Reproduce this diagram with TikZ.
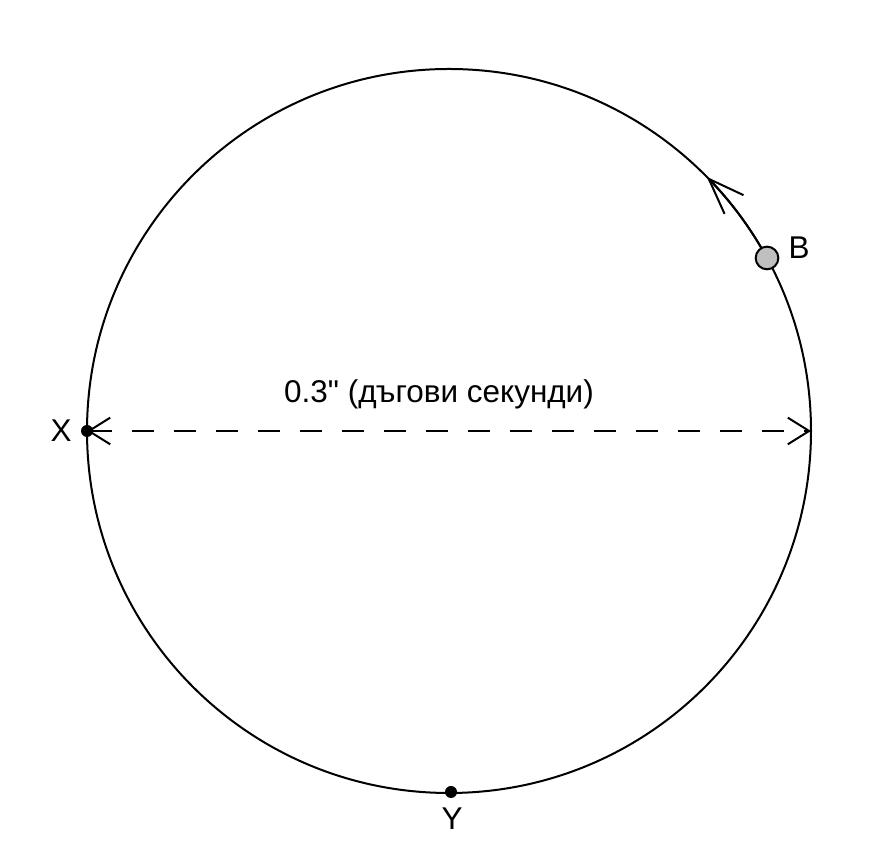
\documentclass[tikz,border=0pt]{standalone}
\usepackage{fontspec}
\setmainfont{Liberation Sans}[Ligatures=TeXOff]
\usetikzlibrary{arrows.meta}
\begin{document}
\begin{tikzpicture}[x=0.75pt,y=0.75pt,
  line width=1.5pt,
  lbl/.style={inner sep=0pt,font=\fontsize{23.6pt}{28pt}\selectfont},
  smalldot/.style={circle,fill=black,inner sep=0pt,minimum size=9pt},
  bigdot/.style={circle,draw=black,fill={rgb,255:red,192;green,192;blue,192},line width=1.5pt,inner sep=0pt,minimum size=17pt},
  bothbarb/.style={arrows={Straight Barb[length=16pt,width=20pt,line width=1.5pt]-Straight Barb[length=16pt,width=20pt,line width=1.5pt]}},
  bigbarb/.style={-{Straight Barb[length=27pt,width=20pt,line width=1.5pt]}}]
\useasboundingbox (0,0) rectangle (886,841);
\node[circle,draw,inner sep=0pt,minimum size=543pt] (orbit) at (449,410) {};
\draw[bigbarb] (449,410) ++(29:362) arc[start angle=29,end angle=44.6,radius=362];
\coordinate (R) at (811,410);
\node[smalldot] (X) at (87,410) {};
\node[smalldot] (Y) at (451,49) {};
\draw[bothbarb,dash pattern=on 16.5pt off 15pt] (X.center) -- (R);
\node[bigdot] (B) at (767,583) {};
\node[lbl] (Xl) at (61,410) {X};
\node[lbl] (Yl) at (452,22) {Y};
\node[lbl] (Bl) at (799,593) {B};
\node[lbl,anchor=base] (dist) at (439,438) {0.3" (дъгови секунди)};
\end{tikzpicture}
\end{document}
